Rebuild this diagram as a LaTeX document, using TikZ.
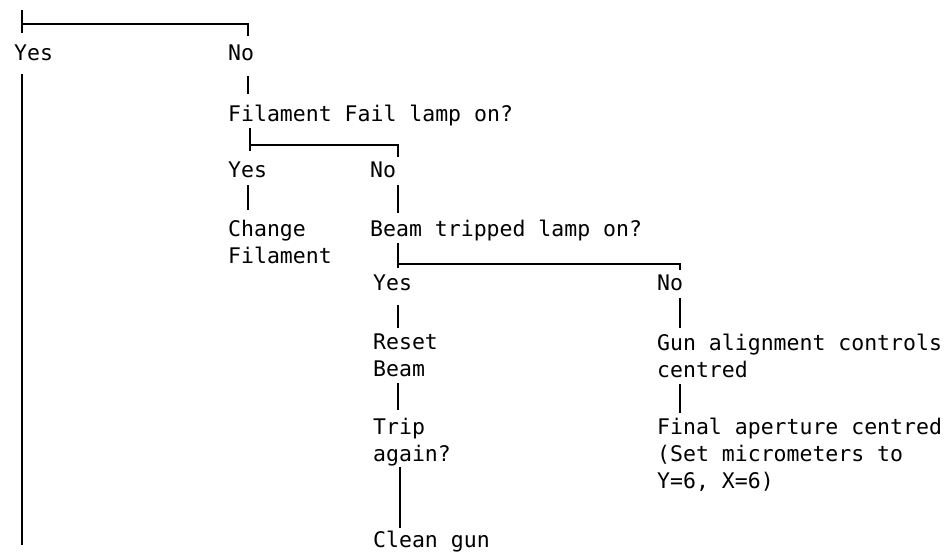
\documentclass[tikz,border=0pt]{standalone}
\usepackage{fontspec}
\newfontfamily\dotfont{DejaVu Sans Mono}
\usetikzlibrary{calc}
\begin{document}
\begin{tikzpicture}[x=1pt,y=-1pt,
  lbl/.style={anchor=north west,inner sep=0pt,align=left,
    font=\dotfont\fontsize{21.5}{27}\selectfont},
  stem/.style={line width=2.2pt},
  bar/.style={line width=2.8pt}]
\useasboundingbox (0,0) rectangle (949,555);
% labels
\node[lbl] (yes1) at (14,45) {Yes};
\node[lbl] (no1) at (228,45) {No};
\node[lbl] (fil) at (228,105) {Filament Fail lamp on?};
\node[lbl] (yes2) at (228,162) {Yes};
\node[lbl] (no2) at (370,162) {No};
\node[lbl] (chg) at (228,220) {Change\\Filament};
\node[lbl] (beam) at (370,220) {Beam tripped lamp on?};
\node[lbl] (yes3) at (373,275) {Yes};
\node[lbl] (no3) at (657,275) {No};
\node[lbl] (reset) at (373,334) {Reset\\Beam};
\node[lbl] (trip) at (373,418) {Trip\\again?};
\node[lbl] (clean) at (373,531) {Clean gun};
\node[lbl] (gun) at (657,334) {Gun alignment controls\\centred};
\node[lbl] (final) at (657,418) {Final aperture centred\\(Set micrometers to\\Y=6, X=6)};
% coordinates
\coordinate (t0) at (22,10);
\coordinate (t1) at (22,33);
\coordinate (b1l) at (22,24);
\coordinate (b1r) at (248,24);
\coordinate (aend) at (22,545);
\coordinate (b2l) at (250,145);
\coordinate (b2r) at (398,145);
\coordinate (b3l) at (398,264);
\coordinate (b3r) at (680,264);
\coordinate (cT) at (400,0);
% first branch
\draw[stem] (t0) -- (t1);
\draw[bar,shorten >=9pt] (b1l) -- (b1r) -- (b1r |- no1.north);
\draw[stem,shorten <=13pt] (yes1.south -| b1l) -- (aend);
\draw[stem,shorten <=15pt,shorten >=11pt] (no1.south -| b1r) -- (fil.north -| b1r);
% second branch
\draw[stem,shorten <=2pt,shorten >=11pt] (fil.south -| b2l) -- (yes2.north -| b2l);
\draw[bar,shorten >=5pt] (b2l) -- (b2r) -- (b2r |- no2.north);
\draw[stem,shorten <=7pt,shorten >=10pt] (yes2.south -| b1r) -- (chg.north -| b1r);
\draw[stem,shorten <=7pt,shorten >=7pt] (no2.south -| b2r) -- (beam.north -| b2r);
% third branch
\draw[stem,shorten <=2pt,shorten >=7pt] (beam.south -| b3l) -- (yes3.north -| b3l);
\draw[bar,shorten >=5pt] (b3l) -- (b3r) -- (b3r |- no3.north);
\draw[stem,shorten <=14pt,shorten >=6pt] (yes3.south -| b3l) -- (reset.north -| b3l);
\draw[stem,shorten <=7pt,shorten >=6pt] (no3.south -| b3r) -- (gun.north -| b3r);
\draw[stem,shorten <=6pt,shorten >=8pt] (reset.south -| b3l) -- (trip.north -| b3l);
\draw[stem,shorten <=1pt,shorten >=3pt] (trip.south -| cT) -- (clean.north -| cT);
\draw[stem,shorten <=6pt,shorten >=5pt] (gun.south -| b3r) -- (final.north -| b3r);
\end{tikzpicture}
\end{document}
